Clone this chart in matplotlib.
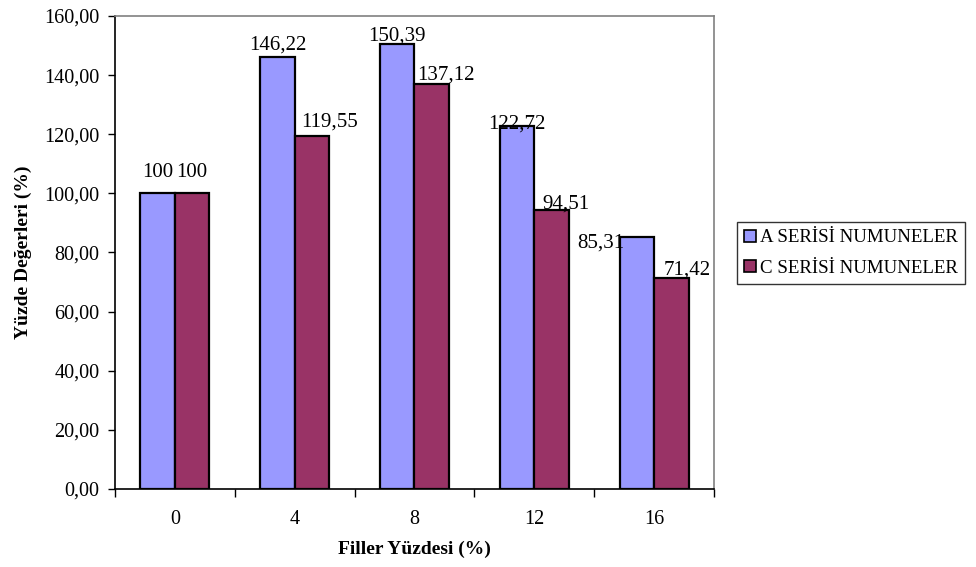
import matplotlib
matplotlib.use("Agg")
import matplotlib.pyplot as plt
import numpy as np

plt.rcParams["font.family"] = ["Liberation Serif", "DejaVu Serif"]

# Data
categories = ["0", "4", "8", "12", "16"]
series_a = [100, 146.22, 150.39, 122.72, 85.31]
series_c = [100, 119.55, 137.12, 94.51, 71.42]
series_names = ["A SERİSİ NUMUNELER", "C SERİSİ NUMUNELER"]
y_ticks = [0, 20, 40, 60, 80, 100, 120, 140, 160]

# Label placement (pixel offsets from bar top centre: dx, baseline gap)
label_off_a = [(0, 16), (0, 7), (0, 4), (0, -2), (-36, -11)]
label_off_c = [(0, 16), (18, 9), (14, 4), (14, 1), (16, 3)]

color_a = "#9999FF"
color_c = "#993366"


def fmt(v):
    if float(v).is_integer():
        return f"{int(v)}"
    return f"{v:.2f}".replace(".", ",")


fig = plt.figure(figsize=(9.76, 5.67), dpi=100)
ax = fig.add_axes([0.1178, 0.1376, 0.6137, 0.8342])

x = np.arange(len(categories))
w = 0.288
bars_a = ax.bar(x - w / 2, series_a, w, color=color_a, edgecolor="black",
                linewidth=1.6, label=series_names[0], zorder=3)
bars_c = ax.bar(x + w / 2, series_c, w, color=color_c, edgecolor="black",
                linewidth=1.6, label=series_names[1], zorder=3)

for bars, vals, offs in ((bars_a, series_a, label_off_a), (bars_c, series_c, label_off_c)):
    for b, v, (dx, dy) in zip(bars, vals, offs):
        ax.annotate(fmt(v), (b.get_x() + b.get_width() / 2, v),
                    xytext=(dx, dy), textcoords="offset pixels",
                    ha="center", va="baseline", fontsize=15, zorder=5)

ax.set_xlim(-0.5, len(categories) - 0.5)
ax.set_ylim(0, 160)

ax.set_yticks(y_ticks)
ax.set_yticklabels([f"{t:.2f}".replace(".", ",") for t in y_ticks], fontsize=14.5)
ax.tick_params(axis="y", direction="out", length=5, width=1, pad=6, color="black")

ax.set_xticks(x)
ax.set_xticklabels(categories, fontsize=14.5)
ax.set_xticks(np.arange(-0.5, len(categories), 1), minor=True)
ax.tick_params(axis="x", which="major", length=0, pad=15)
ax.tick_params(axis="x", which="minor", direction="out", length=6, width=1, color="black")

for side in ("top", "right"):
    ax.spines[side].set_color("#808080")
    ax.spines[side].set_linewidth(1.2)
for side in ("left", "bottom"):
    ax.spines[side].set_color("black")
    ax.spines[side].set_linewidth(1.2)

ax.set_xlabel("Filler Yüzdesi (%)", fontsize=14, fontweight="bold")
ax.xaxis.set_label_coords(0.5, -0.11)
ax.set_ylabel("Yüzde Değerleri (%)", fontsize=14, fontweight="bold")
ax.yaxis.set_label_coords(-0.138, 0.5)

leg = ax.legend(loc="upper left", bbox_to_anchor=(1.038, 0.565), borderaxespad=0,
                fontsize=13.6, frameon=True, fancybox=False, shadow=False,
                handlelength=0.6, handleheight=0.6, handletextpad=0.22,
                labelspacing=0.7, borderpad=0.4)
leg.get_frame().set_edgecolor("black")
leg.get_frame().set_linewidth(1.0)
for h in leg.legend_handles:
    h.set_linewidth(1.2)

fig.savefig("out.png", dpi=100)
